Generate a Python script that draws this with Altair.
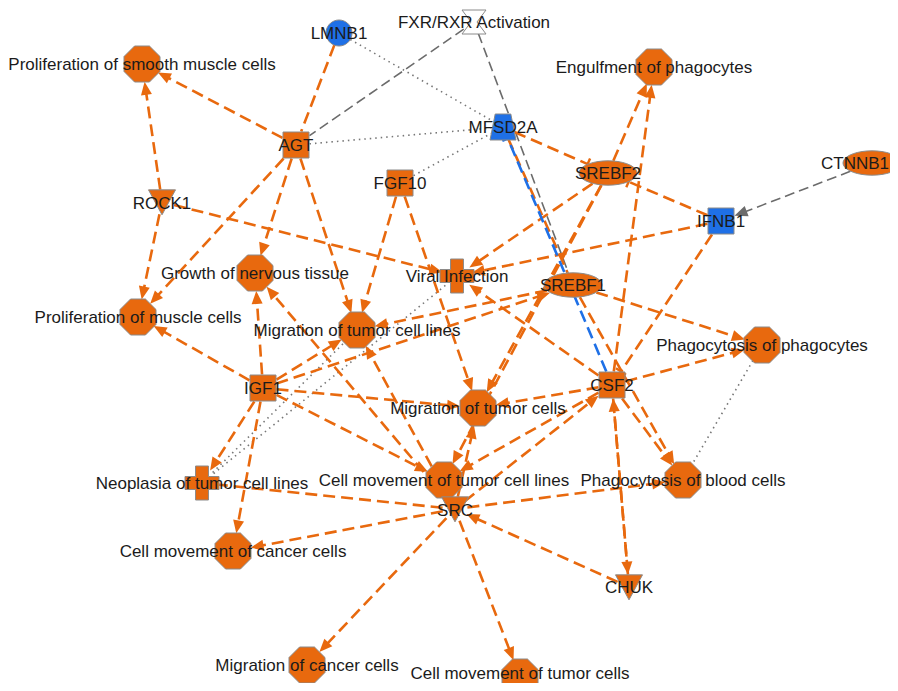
import math
import altair as alt
import pandas as pd

# ---------------- data ----------------
node_names = [
    "LMNB1", "FXR/RXR Activation", "Proliferation of smooth muscle cells", "AGT",
    "MFSD2A", "Engulfment of phagocytes", "SREBF2", "CTNNB1", "FGF10", "ROCK1",
    "IFNB1", "Growth of nervous tissue", "Viral Infection", "SREBF1",
    "Proliferation of muscle cells", "Migration of tumor cell lines",
    "Phagocytosis of phagocytes", "IGF1", "CSF2", "Migration of tumor cells",
    "Neoplasia of tumor cell lines", "Cell movement of tumor cell lines",
    "Phagocytosis of blood cells", "SRC", "Cell movement of cancer cells", "CHUK",
    "Migration of cancer cells", "Cell movement of tumor cells",
]
node_x = [339, 474, 142, 296, 503, 654, 608, 872, 400, 162, 721, 255, 457, 573,
          138, 357, 762, 263, 612, 478, 202, 444, 683, 455, 233, 629, 307, 520]
node_y = [33, 22, 64, 145, 127, 67, 173, 163, 183, 202, 221, 273, 276, 285,
          317, 330, 345, 388, 385, 408, 483, 480, 480, 509, 551, 587, 665, 677]
# label anchor positions (mostly centred on the node)
label_x = [339, 474, 142, 296, 503, 654, 608, 855, 400, 162, 721, 255, 457, 573,
           138, 357, 762, 263, 612, 478, 202, 444, 683, 455, 233, 629, 307, 520]
label_y = [34, 23, 65, 146, 128, 68, 174, 164, 184, 204, 222, 274, 277, 286,
           318, 331, 346, 389, 386, 409, 484, 481, 481, 511, 552, 588, 666, 674]
node_kind = ["circ", "hour", "oct", "sq", "trap", "oct", "ell", "ell", "sq", "tri",
             "sq", "oct", "cross", "ell", "oct", "oct", "oct", "sq", "sq", "oct",
             "cross", "oct", "oct", "tri", "oct", "tri", "oct", "oct"]
node_tone = ["blue", "white", "orange", "orange", "blue", "orange", "orange", "orange",
             "orange", "orange", "blue", "orange", "orange", "orange", "orange", "orange",
             "orange", "orange", "orange", "orange", "orange", "orange", "orange",
             "orange", "orange", "orange", "orange", "orange"]

# edges: source, target, style (o=orange dashed, b=blue dashed, g=grey dashed, d=dotted), end
edge_src = ["LMNB1", "AGT", "ROCK1", "AGT", "AGT", "AGT", "FXR/RXR Activation",
            "FXR/RXR Activation", "LMNB1", "AGT", "FGF10", "FGF10", "FGF10", "ROCK1",
            "ROCK1", "MFSD2A", "MFSD2A", "CSF2", "CTNNB1", "IFNB1", "IFNB1", "IFNB1",
            "SREBF2", "CSF2", "SREBF2", "SREBF2", "SREBF2", "SREBF1", "SREBF1",
            "SREBF1", "IGF1", "CSF2", "CSF2", "CSF2", "CSF2", "CSF2", "SRC", "CHUK",
            "CSF2", "CHUK", "SRC", "SRC", "SRC", "SRC", "SRC", "SRC", "SRC", "SRC",
            "IGF1", "IGF1", "IGF1", "IGF1", "IGF1", "IGF1", "IGF1",
            "Neoplasia of tumor cell lines", "Neoplasia of tumor cell lines",
            "Phagocytosis of phagocytes"]
edge_tgt = ["AGT", "Proliferation of smooth muscle cells", "Proliferation of smooth muscle cells",
            "Proliferation of muscle cells", "Growth of nervous tissue",
            "Migration of tumor cell lines", "AGT", "SREBF1", "MFSD2A", "MFSD2A", "MFSD2A",
            "Migration of tumor cell lines", "Migration of tumor cells",
            "Proliferation of muscle cells", "Viral Infection", "SREBF2", "SREBF1", "MFSD2A",
            "IFNB1", "SREBF2", "Viral Infection", "CSF2", "Engulfment of phagocytes",
            "Engulfment of phagocytes", "Viral Infection", "Migration of tumor cells",
            "Cell movement of tumor cell lines", "Phagocytosis of phagocytes",
            "Phagocytosis of blood cells", "Migration of tumor cell lines", "SREBF1",
            "Phagocytosis of phagocytes", "Phagocytosis of blood cells",
            "Migration of tumor cells", "Viral Infection", "Cell movement of tumor cell lines",
            "CSF2", "CSF2", "CHUK", "SRC", "Phagocytosis of blood cells",
            "Cell movement of tumor cells", "Migration of cancer cells",
            "Cell movement of cancer cells", "Neoplasia of tumor cell lines",
            "Migration of tumor cells", "Growth of nervous tissue",
            "Migration of tumor cell lines", "Proliferation of muscle cells",
            "Growth of nervous tissue", "Migration of tumor cell lines",
            "Migration of tumor cells", "Neoplasia of tumor cell lines",
            "Cell movement of cancer cells", "Cell movement of tumor cell lines",
            "Viral Infection", "Migration of tumor cell lines", "Phagocytosis of blood cells"]
edge_style = ["o", "o", "o", "o", "o", "o", "g", "g", "d", "d", "d", "o", "o", "o",
              "o", "o", "o", "b", "g", "o", "o", "o", "o", "o", "o", "o", "o", "o", "o",
              "o", "o", "o", "o", "o", "o", "o", "o", "o", "o", "o", "o", "o", "o", "o",
              "o", "o", "o", "o", "o", "o", "o", "o", "o", "o", "o", "d", "d", "d"]
edge_end = ["none", "arrow", "arrow", "arrow", "arrow", "arrow", "none", "none", "none",
            "none", "none", "arrow", "arrow", "arrow", "arrow", "bar", "none", "bar",
            "arrow", "bar", "arrow", "bar", "arrow", "arrow", "arrow", "arrow", "arrow",
            "arrow", "arrow", "arrow", "arrow", "arrow", "arrow", "arrow", "arrow", "arrow",
            "arrow", "arrow", "arrow", "arrow", "arrow", "arrow", "arrow", "arrow", "none",
            "arrow", "arrow", "arrow", "arrow", "arrow", "arrow", "arrow", "arrow", "arrow",
            "arrow", "none", "none", "none"]

# ---------------- styling ----------------
ORANGE = "#E8690E"
BLUE = "#1F70E6"
GREY = "#6b6b6b"
fills = {"orange": ORANGE, "blue": BLUE, "white": "#ffffff"}


def poly(pts):
    return "M" + " L".join(f"{a:.3f},{b:.3f}" for a, b in pts) + " Z"


ell_pts = [(math.cos(2 * math.pi * k / 36), 0.42 * math.sin(2 * math.pi * k / 36)) for k in range(36)]
circ_pts = [(math.cos(2 * math.pi * k / 36), math.sin(2 * math.pi * k / 36)) for k in range(36)]
shape_path = {
    "oct": "M-0.414,-1 L0.414,-1 L1,-0.414 L1,0.414 L0.414,1 L-0.414,1 L-1,0.414 L-1,-0.414 Z",
    "sq": "M-1,-1 L1,-1 L1,1 L-1,1 Z",
    "ell": poly(ell_pts),
    "circ": poly(circ_pts),
    "tri": "M-1,-0.9 L1,-0.9 L0,0.95 Z",
    "cross": "M-0.38,-1 L0.38,-1 L0.38,-0.38 L1,-0.38 L1,0.38 L0.38,0.38 L0.38,1 L-0.38,1 L-0.38,0.38 L-1,0.38 L-1,-0.38 L-0.38,-0.38 Z",
    "trap": "M-0.6,-1 L0.6,-1 L1,1 L-1,1 Z",
    "hour": "M-1,-1 L1,-1 L0.25,0 L1,1 L-1,1 L-0.25,0 Z",
}
shape_w = {"oct": 36, "sq": 26, "ell": 58, "circ": 26, "tri": 27, "cross": 34, "trap": 26, "hour": 24}


def radius(kind, ux, uy):
    if kind == "oct":
        return 18
    if kind == "sq":
        return 13.5 / max(abs(ux), abs(uy), 1e-6)
    if kind == "ell":
        return 1 / math.sqrt((ux / 29) ** 2 + (uy / 12.5) ** 2)
    if kind == "circ":
        return 13
    if kind == "cross":
        return 15
    return 12.5


pos = {n: (x, y, k) for n, x, y, k in zip(node_names, node_x, node_y, node_kind)}

nodes = pd.DataFrame({
    "name": node_names, "x": node_x, "y": node_y,
    "lx": label_x, "ly": label_y,
    "shp": [shape_path[k] for k in node_kind],
    "sz": [shape_w[k] ** 2 for k in node_kind],
    "fill": [fills[t] for t in node_tone],
})

seg_rows, arrow_rows, bar_rows = [], [], []
for s, t, st, en in zip(edge_src, edge_tgt, edge_style, edge_end):
    x1, y1, k1 = pos[s]
    x2, y2, k2 = pos[t]
    dx, dy = x2 - x1, y2 - y1
    L = math.hypot(dx, dy)
    ux, uy = dx / L, dy / L
    rs = radius(k1, ux, uy)
    rt = radius(k2, -ux, -uy)
    sx, sy = x1 + ux * rs, y1 + uy * rs
    tx, ty = x2 - ux * rt, y2 - uy * rt
    ang = math.degrees(math.atan2(dx, -dy)) % 360
    col = {"o": ORANGE, "b": BLUE, "g": GREY, "d": GREY}[st]
    if en == "arrow":
        ex, ey = tx - ux * 10, ty - uy * 10
        arrow_rows.append({"x": tx - ux * 6.5, "y": ty - uy * 6.5, "ang": ang, "col": col})
    else:
        ex, ey = tx, ty
        if en == "bar":
            bar_rows.append({"x": tx, "y": ty, "ang": ang, "col": col})
    seg_rows.append({"x": sx, "y": sy, "x2": ex, "y2": ey, "st": st})

segs = pd.DataFrame(seg_rows)
arrows = pd.DataFrame(arrow_rows)
bars = pd.DataFrame(bar_rows)

XS = alt.Scale(domain=[8, 890], nice=False, zero=False)
YS = alt.Scale(domain=[8, 683], nice=False, zero=False, reverse=True)
X = alt.X("x:Q", scale=XS, axis=None)
Y = alt.Y("y:Q", scale=YS, axis=None)

dash = {"o": [12, 6], "b": [12, 6], "g": [10, 5], "d": [1.5, 4]}
width = {"o": 2.6, "b": 2.6, "g": 1.6, "d": 1.6}
colr = {"o": ORANGE, "b": BLUE, "g": GREY, "d": "#777777"}

layers = []
for st in ["d", "g", "o", "b"]:
    sub = segs[segs["st"] == st]
    if len(sub) == 0:
        continue
    layers.append(
        alt.Chart(sub).mark_rule(color=colr[st], strokeWidth=width[st], strokeDash=dash[st])
        .encode(x=X, y=Y, x2="x2:Q", y2="y2:Q")
    )

layers.append(
    alt.Chart(arrows).mark_point(filled=True, opacity=1, strokeWidth=0,
                                  shape="M0,-1 L0.85,1 L-0.85,1 Z", size=169)
    .encode(x=X, y=Y, angle=alt.Angle("ang:Q", scale=None), color=alt.Color("col:N", scale=None))
)
layers.append(
    alt.Chart(bars).mark_point(filled=False, opacity=1, strokeWidth=2.4,
                                shape="M-1,0 L1,0", size=144)
    .encode(x=X, y=Y, angle=alt.Angle("ang:Q", scale=None), stroke=alt.Stroke("col:N", scale=None))
)
layers.append(
    alt.Chart(nodes).mark_point(filled=True, opacity=1, stroke="#8a8a8a", strokeWidth=1)
    .encode(x=X, y=Y, shape=alt.Shape("shp:N", scale=None), size=alt.Size("sz:Q", scale=None),
            fill=alt.Fill("fill:N", scale=None))
)
layers.append(
    alt.Chart(nodes).mark_text(font="Liberation Sans", fontSize=17, color="#1b1b1b",
                               align="center", baseline="middle")
    .encode(x=alt.X("lx:Q", scale=XS, axis=None), y=alt.Y("ly:Q", scale=YS, axis=None),
            text="name:N")
)

chart = alt.layer(*layers).properties(
    width=882, height=675, padding=0,
    autosize=alt.AutoSizeParams(type="none"),
    background="white",
).configure_view(strokeWidth=0)

chart.save("out.html", embed_options={"renderer": "svg", "actions": False})
